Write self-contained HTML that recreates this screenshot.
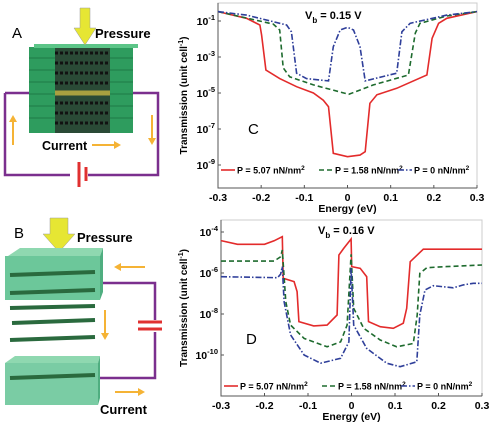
<!DOCTYPE html>
<html><head><meta charset="utf-8"><style>
body{margin:0;background:#fff;width:490px;height:429px;overflow:hidden;font-family:"Liberation Sans",sans-serif}
svg{position:absolute;left:0;top:0}
</style></head><body>
<svg id="fig" width="490" height="429" viewBox="0 0 490 429" font-family="Liberation Sans, sans-serif">
<g>
  <text x="12" y="38" font-size="15">A</text>
  <polyline points="5,93 5,175 158,175 158,93 133,93" fill="none" stroke="#7b2f8e" stroke-width="2.5"/>
  <line x1="5" y1="93" x2="29" y2="93" stroke="#7b2f8e" stroke-width="2.5"/>
  <rect x="29" y="47" width="104" height="86" fill="#2e9c5e"/>
  <rect x="34" y="44" width="104" height="4" fill="#5cc588"/>
  <rect x="55" y="48" width="55" height="85" fill="#2a4a36"/>
  <g stroke="#111" stroke-width="3" stroke-dasharray="3 2">
    <line x1="55" y1="53" x2="110" y2="53"/><line x1="55" y1="63" x2="110" y2="63"/><line x1="55" y1="73" x2="110" y2="73"/>
    <line x1="55" y1="83" x2="110" y2="83"/><line x1="55" y1="103" x2="110" y2="103"/><line x1="55" y1="113" x2="110" y2="113"/><line x1="55" y1="123" x2="110" y2="123"/>
  </g>
  <line x1="55" y1="93" x2="110" y2="93" stroke="#a8a040" stroke-width="5"/>
  <g stroke="#1d7a45" stroke-width="1"><line x1="29" y1="58" x2="55" y2="58"/><line x1="29" y1="70" x2="55" y2="70"/><line x1="29" y1="82" x2="55" y2="82"/><line x1="29" y1="94" x2="55" y2="94"/><line x1="29" y1="106" x2="55" y2="106"/><line x1="29" y1="118" x2="55" y2="118"/>
  <line x1="110" y1="58" x2="133" y2="58"/><line x1="110" y1="70" x2="133" y2="70"/><line x1="110" y1="82" x2="133" y2="82"/><line x1="110" y1="94" x2="133" y2="94"/><line x1="110" y1="106" x2="133" y2="106"/><line x1="110" y1="118" x2="133" y2="118"/></g>
  <polygon points="80,8 90,8 90,28 96,28 85,45 74,28 80,28" fill="#e6e633" stroke="#999" stroke-width="0.5"/>
  <text x="95" y="38" font-size="13" font-weight="bold">Pressure</text>
  <text x="42" y="150" font-size="12.5" font-weight="bold">Current</text>
  <g fill="#f5b335" stroke="#f5b335" stroke-width="2">
    <line x1="92" y1="145" x2="114" y2="145"/><polygon points="114,141 121,145 114,149" stroke="none"/>
    <line x1="13" y1="145" x2="13" y2="122"/><polygon points="9,122 13,115 17,122" stroke="none"/>
    <line x1="152" y1="115" x2="152" y2="138"/><polygon points="148,138 152,145 156,138" stroke="none"/>
  </g>
  <rect x="70" y="168" width="18" height="14" fill="#fff"/>
  <line x1="79" y1="162" x2="79" y2="187" stroke="#e03030" stroke-width="3"/>
  <line x1="86" y1="167" x2="86" y2="181" stroke="#e03030" stroke-width="3"/>
</g>
<g>
  <text x="14" y="238" font-size="15">B</text>
  <polygon points="50,218 68,218 68,234 75,234 59,252 43,234 50,234" fill="#e6e633" stroke="#999" stroke-width="0.5"/>
  <text x="77" y="242" font-size="13" font-weight="bold">Pressure</text>
  <polyline points="100,283 155,283 155,378 100,378" fill="none" stroke="#7b2f8e" stroke-width="2.5"/>
  <polygon points="8,256 20,248 103,248 100,256" fill="#8fd8b0"/>
  <rect x="5" y="256" width="95" height="44" fill="#6cc79a"/>
  <polygon points="100,256 103,248 103,292 100,300" fill="#4fae80"/>
  <g stroke="#2a6a3e" stroke-width="4"><line x1="10" y1="275" x2="95" y2="272"/><line x1="10" y1="293" x2="95" y2="290"/>
  <line x1="10" y1="308" x2="95" y2="306"/><line x1="12" y1="323" x2="95" y2="320"/><line x1="10" y1="340" x2="95" y2="337"/></g>
  <polygon points="5,363 15,356 100,356 98,363" fill="#8fd8b0"/>
  <rect x="5" y="363" width="93" height="42" fill="#6cc79a" fill-opacity="0.9"/>
  <polygon points="98,363 100,356 100,398 98,405" fill="#4fae80"/>
  <line x1="10" y1="378" x2="95" y2="375" stroke="#2a6a3e" stroke-width="4"/>
  <rect x="138" y="320" width="24" height="12" fill="#fff"/>
  <line x1="138" y1="322" x2="162" y2="322" stroke="#e03030" stroke-width="3"/>
  <line x1="138" y1="329" x2="162" y2="329" stroke="#e03030" stroke-width="3"/>
  <g fill="#f5b335" stroke="#f5b335" stroke-width="2">
    <line x1="145" y1="267" x2="121" y2="267"/><polygon points="121,263 114,267 121,271" stroke="none"/>
    <line x1="105" y1="310" x2="105" y2="333"/><polygon points="101,333 105,340 109,333" stroke="none"/>
    <line x1="115" y1="392" x2="138" y2="392"/><polygon points="138,388 145,392 138,396" stroke="none"/>
  </g>
  <text x="100" y="414" font-size="13" font-weight="bold">Current</text>
</g>
<g id="chartC"></g>
<g id="chartD"></g>
</svg>
<script>
const cRedE=[-0.3,-0.234,-0.203,-0.199,-0.189,-0.157,-0.118,-0.079,-0.056,-0.044,-0.033,0,0.029,0.041,0.052,0.068,0.114,0.184,0.196,0.211,0.23,0.3];
const cRedL=[-0.48,-0.85,-1.22,-1.78,-3.72,-4.2,-4.65,-5.0,-5.4,-5.76,-8.35,-8.54,-8.45,-8.26,-5.57,-5.1,-4.74,-4.0,-1.96,-1.13,-0.85,-0.48];
const cGreenE=[-0.3,-0.172,-0.157,-0.149,-0.134,-0.079,0.003,0.06,0.141,0.157,0.168,0.23,0.3];
const cGreenL=[-0.48,-1.17,-1.5,-3.6,-4.1,-4.55,-5.07,-4.55,-4.0,-1.67,-1.13,-0.72,-0.48];
const cBlueE=[-0.3,-0.234,-0.141,-0.13,-0.118,-0.095,-0.044,-0.033,-0.017,0,0.014,0.029,0.041,0.114,0.126,0.145,0.23,0.3];
const cBlueL=[-0.48,-0.67,-1.22,-1.6,-3.9,-4.2,-4.33,-2.43,-1.5,-1.35,-1.5,-2.43,-4.33,-3.9,-1.6,-1.13,-0.67,-0.48];
const cYTicks=[-1,-3,-5,-7,-9];
const dRedE=[-0.3,-0.262,-0.2,-0.178,-0.159,-0.157,-0.132,-0.125,-0.121,-0.087,-0.056,-0.033,-0.029,-0.018,-0.001,0.0004,0.02,0.035,0.039,0.066,0.096,0.119,0.127,0.135,0.165,0.3];
const dRedL=[-4.42,-4.6,-4.6,-4.43,-4.23,-6.26,-6.42,-6.91,-8.37,-8.58,-8.54,-8.05,-5.12,-4.8,-4.34,-5.69,-5.77,-6.18,-8.37,-8.62,-8.7,-8.45,-7.72,-5.45,-4.84,-4.84];
const dGreenE=[-0.3,-0.178,-0.163,-0.159,-0.151,-0.14,-0.109,-0.056,-0.025,-0.01,-0.001,0.005,0.028,0.066,0.104,0.142,0.151,0.157,0.173,0.218,0.3];
const dGreenL=[-5.42,-5.42,-5.21,-4.88,-7.4,-8.54,-9.19,-9.6,-9.36,-8.54,-5.09,-7.72,-8.7,-9.27,-9.6,-9.44,-8.05,-6.02,-5.74,-5.69,-5.61];
const dBlueE=[-0.3,-0.17,-0.163,-0.159,-0.155,-0.14,-0.109,-0.071,-0.025,-0.006,-0.001,0.005,0.035,0.081,0.112,0.15,0.157,0.169,0.188,0.234,0.257,0.28,0.3];
const dBlueL=[-6.18,-6.23,-6.06,-5.69,-7.4,-9.02,-10.0,-10.4,-10.16,-9.36,-5.77,-8.54,-9.68,-10.4,-10.57,-10.33,-8.05,-6.83,-6.62,-6.72,-6.58,-6.5,-6.5];
const dYTicks=[-4,-6,-8,-10];
const xTicks=[-0.3,-0.2,-0.1,0,0.1,0.2,0.3];
const xTickLabels=["-0.3","-0.2","-0.1","0","0.1","0.2","0.3"];
const legendLabels=["P = 5.07 nN/nm","P = 1.58 nN/nm","P = 0 nN/nm"];

const NS="http://www.w3.org/2000/svg";
function mk(parent,tag,attrs){const e=document.createElementNS(NS,tag);for(const k in attrs)e.setAttribute(k,attrs[k]);parent.appendChild(e);return e;}
const styles=[{c:"#e32b2b",d:""},{c:"#1e6b2e",d:"5 3"},{c:"#2f3f9a",d:"6 2 1.5 2"}];

function drawChart(g,cfg){
  const sx=e=>cfg.x0+(e+0.3)/0.6*(cfg.x1-cfg.x0);
  const sy=L=>cfg.yRef+(cfg.LRef-L)*cfg.dec;
  const frame=mk(g,'rect',{x:cfg.x0,y:cfg.top,width:cfg.x1-cfg.x0,height:cfg.bot-cfg.top,fill:'none',stroke:'#ccc','stroke-width':1});
  
  
  const ax=mk(g,'polyline',{points:`${cfg.x0},${cfg.top} ${cfg.x0},${cfg.bot} ${cfg.x1},${cfg.bot}`,fill:'none',stroke:'#555','stroke-width':1});
  
  
  xTicks.forEach((t,i)=>{
    mk(g,'line',{x1:sx(t),x2:sx(t),y1:cfg.bot,y2:cfg.bot-3,stroke:'#555'});
    const tx=mk(g,'text',{x:sx(t),y:cfg.bot+13,'font-size':10.5,'font-weight':'bold','text-anchor':'middle'});
    tx.textContent=xTickLabels[i];
    
    
  });
  cfg.yTicks.forEach(t=>{
    const y=sy(t);
    mk(g,'line',{x1:cfg.x0,x2:cfg.x0+3,y1:y,y2:y,stroke:'#555'});
    const tx=mk(g,'text',{x:cfg.x0-3,y:y+4,'font-size':10.5,'font-weight':'bold','text-anchor':'end'});
    tx.innerHTML='10<tspan dy="-5" font-size="7.5">'+t+'</tspan>';
    
    
  });
  const xt=mk(g,'text',{x:(cfg.x0+cfg.x1)/2,y:cfg.bot+24,'font-size':10.5,'font-weight':'bold','text-anchor':'middle'});
  xt.textContent='Energy (eV)';
  
  
  const yc=(cfg.top+cfg.bot)/2;
  const yt=mk(g,'text',{x:187,y:yc,'font-size':10,'font-weight':'bold','text-anchor':'middle',transform:`rotate(-90 187 ${yc})`});
  yt.innerHTML='Transmission (unit cell<tspan dy="-4" font-size="7">-1</tspan><tspan dy="4">)</tspan>';
  
  
  cfg.series.forEach((s,i)=>{
    const pts=s[0].map((e,j)=>sx(e).toFixed(1)+','+sy(s[1][j]).toFixed(1)).join(' ');
    const p=mk(g,'polyline',{points:pts,fill:'none',stroke:styles[i].c,'stroke-width':1.6,'stroke-dasharray':styles[i].d});
    
    
  });
  const lx=[cfg.x0+3,cfg.x0+101,cfg.x0+180];
  legendLabels.forEach((lab,i)=>{
    const ln=mk(g,'line',{x1:lx[i],x2:lx[i]+14,y1:cfg.legY,y2:cfg.legY,stroke:styles[i].c,'stroke-width':1.6,'stroke-dasharray':styles[i].d});
    
    
    const t=mk(g,'text',{x:lx[i]+16,y:cfg.legY+3.5,'font-size':9,'font-weight':'bold'});
    t.innerHTML=lab+'<tspan dy="-3.5" font-size="6.5">2</tspan>';
    
    
  });
  const vb=mk(g,'text',{x:cfg.vbX,y:cfg.vbY,'font-size':11,'font-weight':'bold'});
  vb.innerHTML='V<tspan dy="4" font-size="8">b</tspan><tspan dy="-4"> = '+cfg.vb+' V</tspan>';
  
  
  const pl=mk(g,'text',{x:cfg.plX,y:cfg.plY,'font-size':15});
  pl.textContent=cfg.letter;
  
  
}
drawChart(document.getElementById('chartC'),{x0:218,x1:477,top:3,bot:188,yRef:21,LRef:-1,dec:18,yTicks:cYTicks,
  series:[[cRedE,cRedL],[cGreenE,cGreenL],[cBlueE,cBlueL]],legY:170,vbX:305,vbY:19,vb:'0.15',plX:248,plY:134,letter:'C'});
drawChart(document.getElementById('chartD'),{x0:221,x1:482,top:220,bot:396,yRef:232,LRef:-4,dec:20.5,yTicks:dYTicks,
  series:[[dRedE,dRedL],[dGreenE,dGreenL],[dBlueE,dBlueL]],legY:386,vbX:318,vbY:234,vb:'0.16',plX:246,plY:344,letter:'D'});
</script>
</body></html>
